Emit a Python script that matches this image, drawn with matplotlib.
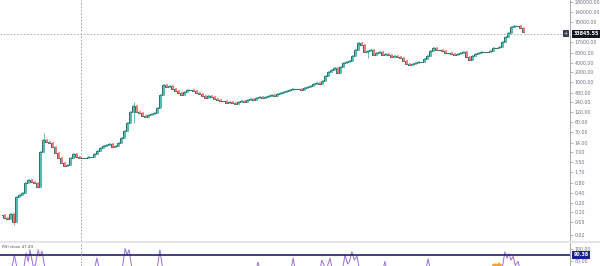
import matplotlib
matplotlib.use("Agg")
import matplotlib.pyplot as plt
import numpy as np
from matplotlib.collections import LineCollection
from matplotlib.lines import Line2D
import matplotlib.transforms as mtransforms
from matplotlib.ticker import FixedLocator, NullLocator

# ---------------- data ----------------
closes = [0.083, 0.067, 0.063, 0.089, 0.051, 0.30, 0.34, 0.39, 0.80, 0.99,
          0.86, 0.80, 0.60, 7.2, 16.8, 14.5, 13.6, 10.2, 6.7, 4.7,
          3.3, 2.66, 2.86, 4.7, 6.2, 5.0, 4.7, 4.8, 4.6, 5.0,
          5.1, 6.2, 7.7, 9.5, 11.0, 11.8, 12.2, 10.2, 11.0, 13.6,
          19.3, 31.6, 55.7, 121, 185, 121, 113, 91, 85, 98,
          105, 113, 161, 404, 819, 711, 763, 617, 536, 465,
          404, 499, 575, 590, 536, 465, 433, 376, 327, 376,
          351, 304, 283, 264, 270, 229, 246, 229, 214, 246,
          264, 246, 283, 304, 283, 327, 351, 327, 351, 376,
          404, 376, 433, 465, 499, 536, 575, 617, 630, 600,
          575, 663, 711, 763, 879, 944, 879, 1087, 1548, 2055,
          2367, 2727, 1914, 2927, 3883, 4168, 4473, 6370, 9736, 15976,
          13872, 8452, 9071, 9736, 6837, 7875, 8452, 6837, 7338, 6837,
          5935, 6370, 5935, 5530, 4473, 3618, 3371, 3618, 3883, 4168,
          4100, 5152, 6370, 9071, 11220, 9736, 9900, 9071, 7875, 8000,
          7338, 6837, 7338, 7875, 8452, 5935, 4801, 6370, 7338, 7875,
          8452, 8600, 8300, 9071, 11220, 11500, 12042, 17144, 24432, 32400,
          49520, 53152, 52000, 46144, 33845.55]

wick_idx = [4, 14, 44, 119, 122]
wick_hi = [0.09, 27.6, 246, 17500, 9736]
wick_lo = [0.041, 13.6, 55.7, 13872, 5530]

price_ticks = [280000, 140000, 70000, 17000, 8000, 4000, 2000, 1000, 480, 240,
               120, 60, 30, 14, 7, 3.5, 1.7, 0.8, 0.4, 0.2, 0.1, 0.05, 0.02]
price_labels = ["280000.00", "140000.00", "70000.00", "17000.00", "8000.00",
                "4000.00", "2000.00", "1000.00", "480.00", "240.00", "120.00",
                "60.00", "30.00", "14.00", "7.00", "3.50", "1.70", "0.80",
                "0.40", "0.20", "0.10", "0.05", "0.02"]
cross_price = 30500
cross_label = "33845.55"
cross_t = 26.5

rsi_t = [0, 3.0, 4.3, 5.6, 7.2, 8.2, 8.9, 9.5, 10.6, 11.3, 12.2, 12.8, 13.5, 14.8,
         30.6, 31.8, 33.0, 40.0, 41.2, 41.8, 42.5, 43.8, 51.6, 52.8, 54.0,
         84.6, 85.5, 86.4, 96.2, 97.2, 98.2, 105.9, 106.8, 107.9, 108.6, 109.5, 110.5,
         113.4, 114.5, 115.4, 116.0, 116.8, 117.6, 118.5, 119.6, 126.9, 127.8, 128.7,
         141.1, 142.2, 143.3, 166.6, 167.8, 168.5, 169.2, 169.8, 170.5, 171.3, 172.2,
         173.2, 180]
rsi_v = [55, 60, 90, 60, 62, 93, 80, 98, 72, 75, 98, 88, 96, 60,
         60, 85, 60, 60, 100, 90, 98, 60, 60, 98, 60,
         62, 79, 62, 60, 85, 60, 62, 82, 70, 72, 85, 62,
         60, 90, 76, 80, 95, 82, 88, 60, 62, 80, 62,
         60, 84, 60, 60, 95, 85, 92, 82, 88, 74, 80,
         60, 55]
orange_t = [163.4, 164.2, 165.0, 165.8, 166.6]
orange_v = [76, 78, 77, 79, 76]
rsi_level = 90.38
rsi_ticks = [100, 80]
rsi_tick_labels = ["100.00", "80.00"]
rsi_title = "RSI close 47.49"

# ---------------- styling ----------------
UP = "#26a69a"
DOWN = "#ef5350"
TXT = "#6f7280"
AXC = "#9a9ca5"

W, H = 600, 266
fig = plt.figure(figsize=(W / 100, H / 100), dpi=100)
fig.patch.set_facecolor("white")

ax = fig.add_axes([0, 25 / H, 570 / W, 241 / H])
ax2 = fig.add_axes([0, 0, 570 / W, 23 / H])

# candles
n = len(closes)
opens = [closes[0]] + closes[:-1]
idx = np.arange(n)
ax.plot(idx, closes, drawstyle="steps-mid", color="#2e6e69", lw=0.7, zorder=2)
segs = []
cols = []
for k in range(n):
    o, c = opens[k], closes[k]
    segs.append([(k, o), (k, c)])
    cols.append(UP if c >= o else DOWN)
lc = LineCollection(segs, colors=cols, linewidths=1.1, capstyle="projecting", zorder=3)
ax.add_collection(lc)
wsegs = [[(i, lo), (i, hi)] for i, lo, hi in zip(wick_idx, wick_lo, wick_hi)]
wcols = [UP if closes[i] >= opens[i] else DOWN for i in wick_idx]
ax.add_collection(LineCollection(wsegs, colors=wcols, linewidths=0.5, zorder=3))

ax.set_yscale("log")
ax.set_ylim(0.0132, 333700)
ax.set_xlim(-0.5, 189.5)

for s in ["top", "left", "bottom"]:
    ax.spines[s].set_visible(False)
ax.spines["right"].set_color(AXC)
ax.spines["right"].set_linewidth(0.6)
ax.set_xticks([])
ax.yaxis.tick_right()
ax.yaxis.set_major_locator(FixedLocator(price_ticks))
ax.yaxis.set_minor_locator(NullLocator())
ax.set_yticklabels(price_labels)
ax.tick_params(axis="y", which="both", direction="out", length=2, width=0.5,
               colors=AXC, labelcolor=TXT, labelsize=3.4, pad=1.5)

# crosshair
ax.axhline(cross_price, color="#9aa3ad", lw=0.6, ls=(0, (2, 2)))
ax.axvline(cross_t, color="#9598a1", lw=0.6, ls=(0, (2, 2)))
tr = mtransforms.blended_transform_factory(ax.transAxes, ax.transData)
ax.text(1.006, cross_price, cross_label, transform=tr, fontsize=3.4, color="white",
        va="center", ha="left", fontweight="bold", zorder=10, clip_on=False,
        bbox=dict(boxstyle="square,pad=0.35", fc="#131722", ec="none"))
ax.text(0.993, cross_price, "+", transform=tr, fontsize=3.6, color="white",
        va="center", ha="center", zorder=10, clip_on=False,
        bbox=dict(boxstyle="square,pad=0.2", fc="#3a3d48", ec="none"))

# indicator pane
ax2.set_xlim(-0.5, 189.5)
ax2.set_ylim(73, 108.5)
ax2.fill_between(orange_t, 70, orange_v, color="#f5a623", lw=0)
ax2.plot(rsi_t, rsi_v, color="#9a6fd6", lw=0.7)
ax2.axhline(rsi_level, color="#1c1f7a", lw=1.2)
ax2.axvline(cross_t, color="#9598a1", lw=0.6, ls=(0, (2, 2)))
for s in ["top", "left", "bottom"]:
    ax2.spines[s].set_visible(False)
ax2.spines["right"].set_color(AXC)
ax2.spines["right"].set_linewidth(0.6)
ax2.set_xticks([])
ax2.yaxis.tick_right()
ax2.set_yticks(rsi_ticks)
ax2.set_yticklabels(rsi_tick_labels)
ax2.tick_params(axis="y", direction="out", length=2, width=0.5,
                colors=AXC, labelcolor=TXT, labelsize=3.4, pad=1.5)
tr2 = mtransforms.blended_transform_factory(ax2.transAxes, ax2.transData)
ax2.text(1.006, rsi_level, f"{rsi_level:.2f}", transform=tr2, fontsize=3.4,
         color="white", va="center", ha="left", fontweight="bold", clip_on=False,
         bbox=dict(boxstyle="square,pad=0.3", fc="#1c1f9a", ec="none"))
ax2.text(0.003, 0.82, rsi_title, transform=ax2.transAxes, fontsize=3.0,
         color="#50535e", va="center", ha="left")

# separator between panes
fig.add_artist(Line2D([0, 1], [(H - 242) / H, (H - 242) / H], color="#dfe1e6",
                      lw=1.2, transform=fig.transFigure))

fig.savefig("out.png", dpi=100, facecolor="white")
